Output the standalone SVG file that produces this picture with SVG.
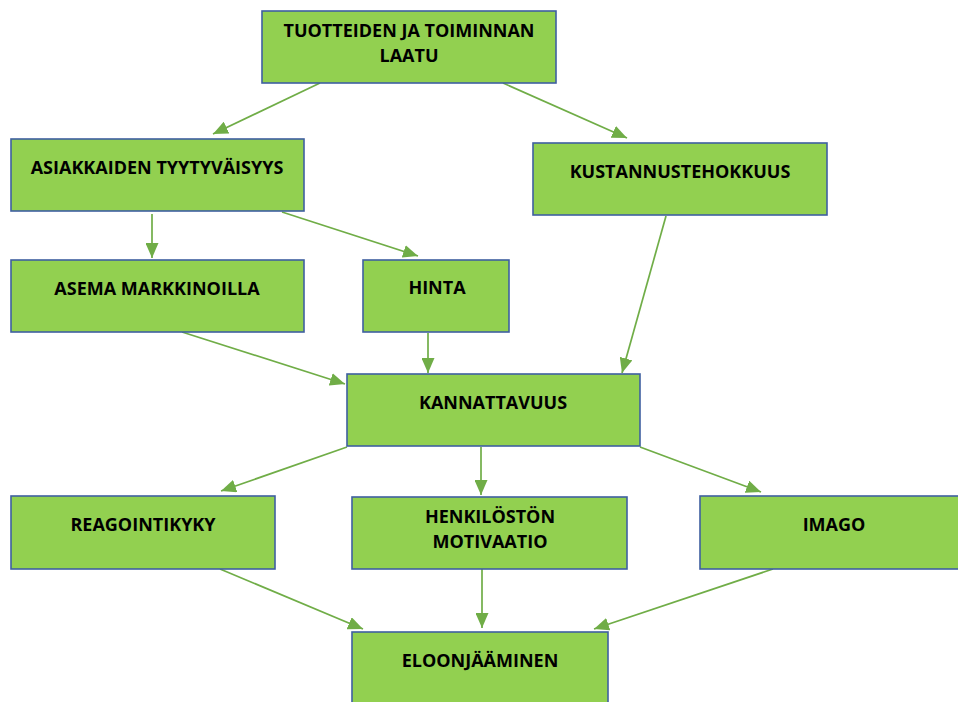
<svg xmlns="http://www.w3.org/2000/svg" width="958" height="702" viewBox="0 0 958 702">
<style>
.box{fill:#92D050;stroke:#3F5FA0;stroke-width:1.6}
.t{font-family:"Open Sans","Liberation Sans",sans-serif;font-weight:bold;font-size:18px;fill:#000;text-anchor:middle}
.c{stroke:#70AD47;stroke-width:1.7;fill:none;marker-end:url(#ah)}
</style>
<defs>
<marker id="ah" markerUnits="userSpaceOnUse" markerWidth="15" markerHeight="13" viewBox="0 0 15 13" refX="15" refY="6.5" orient="auto">
<path d="M0,0 L15,6.5 L0,13 Z" fill="#70AD47"/>
</marker>
</defs>
<rect width="958" height="702" fill="#fff"/>
<g id="connectors">
<line class="c" x1="320" y1="83" x2="213" y2="134"/>
<line class="c" x1="503" y1="83" x2="627" y2="138"/>
<line class="c" x1="152" y1="214" x2="152" y2="258"/>
<line class="c" x1="282" y1="212" x2="418" y2="256"/>
<line class="c" x1="666" y1="216" x2="622" y2="373"/>
<line class="c" x1="182" y1="332" x2="345" y2="384"/>
<line class="c" x1="428" y1="333" x2="428" y2="373"/>
<line class="c" x1="347" y1="447" x2="221" y2="491"/>
<line class="c" x1="481" y1="447" x2="481" y2="495"/>
<line class="c" x1="640" y1="447" x2="761" y2="492"/>
<line class="c" x1="220" y1="569" x2="363" y2="629"/>
<line class="c" x1="482" y1="569" x2="482" y2="628"/>
<line class="c" x1="773" y1="569" x2="594" y2="629"/>
</g>
<g id="n-laatu"><rect class="box" x="262" y="11" width="294" height="72"/><text class="t" x="409" y="37">TUOTTEIDEN JA TOIMINNAN</text><text class="t" x="409" y="62">LAATU</text></g>
<g id="n-asiakas"><rect class="box" x="11" y="139" width="293" height="72"/><text class="t" x="157" y="174">ASIAKKAIDEN TYYTYVÄISYYS</text></g>
<g id="n-kustannus"><rect class="box" x="533" y="143" width="294" height="72"/><text class="t" x="680" y="178">KUSTANNUSTEHOKKUUS</text></g>
<g id="n-asema"><rect class="box" x="11" y="260" width="293" height="72"/><text class="t" x="157" y="295">ASEMA MARKKINOILLA</text></g>
<g id="n-hinta"><rect class="box" x="363" y="260" width="146" height="72"/><text class="t" x="437" y="294">HINTA</text></g>
<g id="n-kannattavuus"><rect class="box" x="347" y="374" width="293" height="72"/><text class="t" x="493" y="409">KANNATTAVUUS</text></g>
<g id="n-reagointi"><rect class="box" x="11" y="496" width="264" height="73"/><text class="t" x="143" y="531">REAGOINTIKYKY</text></g>
<g id="n-motivaatio"><rect class="box" x="352" y="497" width="275" height="72"/><text class="t" x="490" y="523">HENKILÖSTÖN</text><text class="t" x="490" y="548">MOTIVAATIO</text></g>
<g id="n-imago"><rect class="box" x="700" y="496" width="268" height="73"/><text class="t" x="834" y="531">IMAGO</text></g>
<g id="n-eloon"><rect class="box" x="352" y="632" width="256" height="80"/><text class="t" x="480" y="667">ELOONJÄÄMINEN</text></g>
</svg>
